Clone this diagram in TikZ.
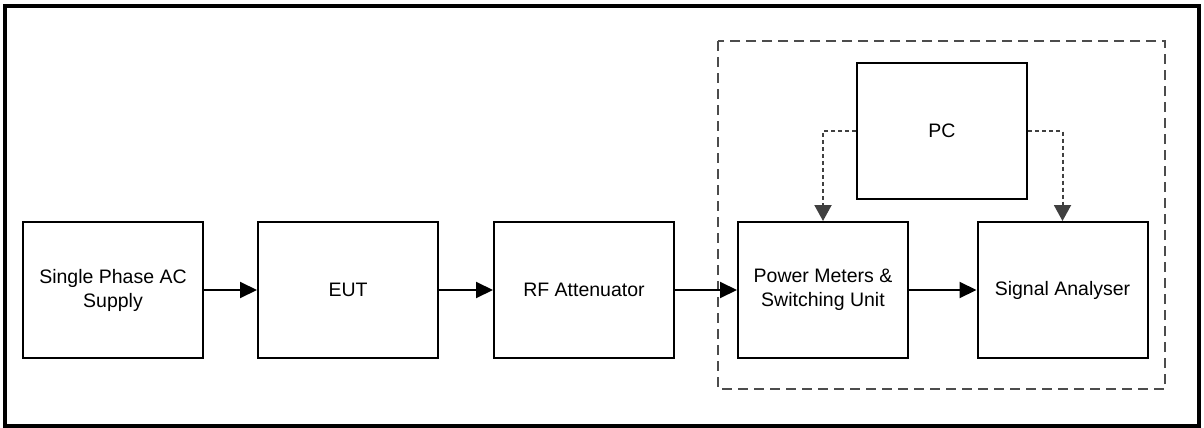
\documentclass[tikz,border=0pt]{standalone}
\usepackage{fontspec}
\setmainfont{Liberation Sans}
\usetikzlibrary{arrows.meta}

\begin{document}
\begin{tikzpicture}[x=1pt,y=-1pt,
blk/.style={draw,line width=2pt,minimum width=180pt,minimum height=136pt,align=center,font=\fontsize{19.5}{24}\selectfont},
narrow/.style={blk,minimum width=170pt},
link/.style={line width=2pt,-{Triangle[length=17pt,width=16pt]}},
ctrl/.style={draw=black!75,line width=2pt,dash pattern=on 4pt off 3pt,-{Triangle[length=16pt,width=17pt]}}]
\useasboundingbox (0,0) rectangle (1204,428);
\draw[line width=3.5pt] (5,6) rectangle (1199,426);
\draw[black!70,line width=1.5pt,dash pattern=on 10pt off 6pt] (718,41) rectangle (1165,389);

\node[blk] (sup) at (113,290) {Single Phase AC\\Supply};
\node[blk] (eut) at (348,290) {EUT};
\node[blk] (rf) at (584,290) {RF Attenuator};
\node[narrow] (pm) at (823,290) {Power Meters \&\\Switching Unit};
\node[narrow] (sa) at (1062.5,290) {Signal Analyser};
\node[narrow] (pc) at (942,131) {PC};

\foreach \a/\b in {sup/eut,eut/rf,rf/pm,pm/sa} {
\draw[link] (\a) -- (\b);
}
\draw[ctrl] (pc.west) -| (pm.north);
\draw[ctrl] (pc.east) -| (sa.north);

\end{tikzpicture}
\end{document}
